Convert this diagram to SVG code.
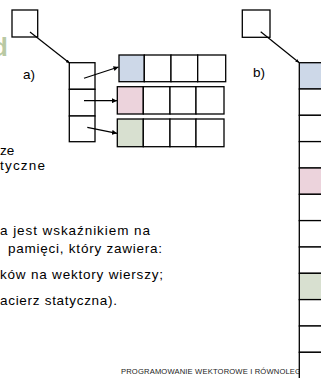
<svg xmlns="http://www.w3.org/2000/svg" width="321" height="378" viewBox="0 0 321 378">
<style>
.box{fill:#fff;stroke:#000;stroke-width:1.3}
.blue{fill:#cdd8e8;stroke:#000;stroke-width:1.3}
.pink{fill:#ecd3dc;stroke:#000;stroke-width:1.3}
.green{fill:#d8e0d0;stroke:#000;stroke-width:1.3}
.ln{stroke:#000;stroke-width:1.2;fill:none}
.t{font-family:"Liberation Sans",Arial,sans-serif;font-size:13.5px;fill:#000}
.f{font-family:"Liberation Sans",Arial,sans-serif;font-size:7.6px;fill:#222}
</style>
<defs>
<marker id="ah" viewBox="0 0 10 10" refX="10" refY="5" markerWidth="5" markerHeight="5" orient="auto" markerUnits="userSpaceOnUse">
<path d="M0,0 L10,5 L0,10 z" fill="#000"/>
</marker>
<marker id="dot" viewBox="0 0 10 10" refX="9" refY="5" markerWidth="4" markerHeight="4" orient="auto" markerUnits="userSpaceOnUse">
<path d="M0,1 L10,5 L0,9 z" fill="#000"/>
</marker>
</defs>
<rect width="321" height="378" fill="#fff"/>
<g id="text">
<text x="-8" y="56" style="font-family:'Liberation Sans',Arial,sans-serif;font-size:26px;font-weight:bold;fill:#b9c9a3">d</text>
<text class="t" x="0" y="155">ze</text>
<text class="t" x="0" y="170" textLength="45">tyczne</text>
<text class="t" x="0" y="235" textLength="150">a jest wskaźnikiem na</text>
<text class="t" x="8" y="253" textLength="154">pamięci, który zawiera:</text>
<text class="t" x="0" y="279" textLength="163">ków na wektory wierszy;</text>
<text class="t" x="0" y="305" textLength="117">acierz statyczna).</text>
<text class="f" x="121" y="374" textLength="180">PROGRAMOWANIE WEKTOROWE I RÓWNOLEG</text>
<text class="t" x="23" y="79">a)</text>
<text class="t" x="253" y="77">b)</text>
</g>
<g id="ptrA"><rect class="box" x="12" y="10" width="25.7" height="27"/></g>
<g id="colA">
<rect class="box" x="69.3" y="62.7" width="25.7" height="26.6"/>
<rect class="box" x="69.3" y="89.3" width="25.7" height="26.7"/>
<rect class="box" x="69.3" y="116" width="25.7" height="25.7"/>
</g>
<g id="row1">
<rect class="blue" x="119" y="55" width="25.3" height="26.7"/>
<rect class="box" x="144.3" y="55" width="26.7" height="26.7"/>
<rect class="box" x="171" y="55" width="26.7" height="26.7"/>
<rect class="box" x="197.7" y="55" width="28" height="26.7"/>
</g>
<g id="row2">
<rect class="pink" x="117.3" y="86.7" width="26" height="27.3"/>
<rect class="box" x="143.3" y="86.7" width="26.7" height="27.3"/>
<rect class="box" x="170" y="86.7" width="26" height="27.3"/>
<rect class="box" x="196" y="86.7" width="28" height="27.3"/>
</g>
<g id="row3">
<rect class="green" x="117.3" y="119" width="26" height="27.7"/>
<rect class="box" x="143.3" y="119" width="26.7" height="27.7"/>
<rect class="box" x="170" y="119" width="26" height="27.7"/>
<rect class="box" x="196" y="119" width="28" height="27.7"/>
</g>
<g id="ptrB"><rect class="box" x="242.3" y="10" width="27.7" height="27.3"/></g>
<g id="colB">
<rect class="blue" x="299.3" y="62.7" width="30" height="26.3"/>
<rect class="box" x="299.3" y="89" width="30" height="26.3"/>
<rect class="box" x="299.3" y="115.3" width="30" height="26.3"/>
<rect class="box" x="299.3" y="141.6" width="30" height="26.4"/>
<rect class="pink" x="299.3" y="168" width="30" height="26.3"/>
<rect class="box" x="299.3" y="194.3" width="30" height="26.3"/>
<rect class="box" x="299.3" y="220.6" width="30" height="26.4"/>
<rect class="box" x="299.3" y="247" width="30" height="26.3"/>
<rect class="green" x="299.3" y="273.3" width="30" height="26.3"/>
<rect class="box" x="299.3" y="299.6" width="30" height="26.4"/>
<rect class="box" x="299.3" y="326" width="30" height="26.3"/>
<rect class="box" x="299.3" y="352.3" width="30" height="30"/>
</g>
<g id="connectors">
<line class="ln" x1="30" y1="32" x2="69.5" y2="63" marker-end="url(#dot)"/>
<line class="ln" x1="84" y1="78.3" x2="118.5" y2="67" marker-end="url(#ah)"/>
<line class="ln" x1="84" y1="100.7" x2="117" y2="100.7" marker-end="url(#ah)"/>
<line class="ln" x1="87.3" y1="127.3" x2="117" y2="133.3" marker-end="url(#ah)"/>
<line class="ln" x1="260.7" y1="31.7" x2="299" y2="62.5" marker-end="url(#dot)"/>
</g>
</svg>
